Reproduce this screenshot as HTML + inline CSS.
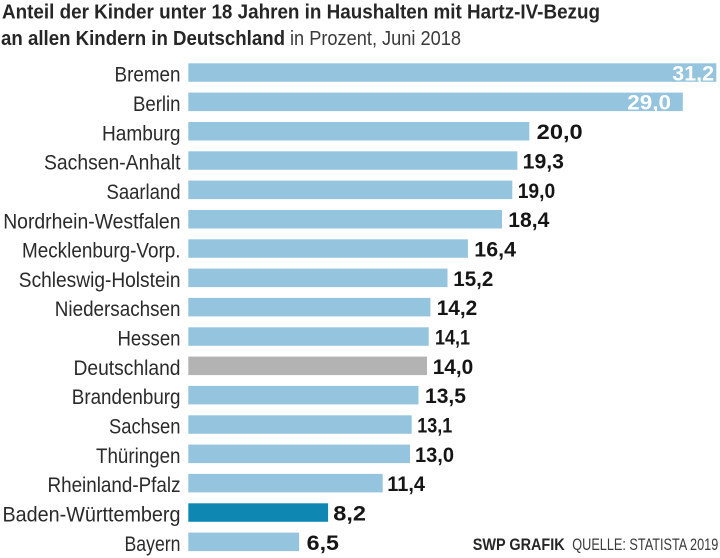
<!DOCTYPE html>
<html>
<head>
<meta charset="utf-8">
<style>
  html, body { margin: 0; padding: 0; background: #ffffff; }
  body { width: 720px; height: 558px; overflow: hidden; }
  svg { display: block; }
  text { font-family: "Liberation Sans", "DejaVu Sans", sans-serif; }
  .lab { font-size: 21.5px; fill: #2a2a2a; }
  .val { font-size: 21px; font-weight: bold; fill: #151515; }
  .valw { font-size: 21px; font-weight: bold; fill: #ffffff; }
  .b { fill: #94c4de; }
</style>
</head>
<body>
<svg width="720" height="558" viewBox="0 0 720 558" xmlns="http://www.w3.org/2000/svg">
  <rect x="0" y="0" width="720" height="558" fill="#ffffff"/>

  <!-- Title -->
  <text x="2" y="18.5" font-size="20" font-weight="bold" fill="#262626" textLength="598" lengthAdjust="spacingAndGlyphs">Anteil der Kinder unter 18 Jahren in Haushalten mit Hartz-IV-Bezug</text>
  <text x="1" y="45" font-size="20" font-weight="bold" fill="#262626" textLength="284" lengthAdjust="spacingAndGlyphs">an allen Kindern in Deutschland</text>
  <text x="290" y="45" font-size="20" fill="#3a3a3a" textLength="171" lengthAdjust="spacingAndGlyphs">in Prozent, Juni 2018</text>

  <!-- Bars -->
  <rect class="b" x="188.3" y="63.3" width="528" height="18.5"/>
  <rect class="b" x="188.3" y="92.6" width="494.5" height="18.5"/>
  <rect class="b" x="188.3" y="122.0" width="341" height="18.5"/>
  <rect class="b" x="188.3" y="151.3" width="329.1" height="18.5"/>
  <rect class="b" x="188.3" y="180.6" width="324" height="18.5"/>
  <rect class="b" x="188.3" y="210.0" width="313.7" height="18.5"/>
  <rect class="b" x="188.3" y="239.3" width="279.6" height="18.5"/>
  <rect class="b" x="188.3" y="268.6" width="259.2" height="18.5"/>
  <rect class="b" x="188.3" y="297.9" width="242.1" height="18.5"/>
  <rect class="b" x="188.3" y="327.3" width="240.4" height="18.5"/>
  <rect x="188.3" y="356.6" width="238.7" height="18.5" fill="#b3b3b3"/>
  <rect class="b" x="188.3" y="385.9" width="230.2" height="18.5"/>
  <rect class="b" x="188.3" y="415.3" width="223.4" height="18.5"/>
  <rect class="b" x="188.3" y="444.6" width="221.7" height="18.5"/>
  <rect class="b" x="188.3" y="473.9" width="194.4" height="18.5"/>
  <rect x="188.3" y="503.3" width="139.8" height="18.5" fill="#0e88b3"/>
  <rect class="b" x="188.3" y="532.6" width="110.8" height="18.5"/>

  <!-- Category labels -->
  <g class="lab" text-anchor="end">
    <text x="180.5" y="81.6" textLength="66" lengthAdjust="spacingAndGlyphs">Bremen</text>
    <text x="180.5" y="110.9" textLength="47.5" lengthAdjust="spacingAndGlyphs">Berlin</text>
    <text x="180.5" y="140.3" textLength="78.5" lengthAdjust="spacingAndGlyphs">Hamburg</text>
    <text x="180.5" y="169.6" textLength="136.5" lengthAdjust="spacingAndGlyphs">Sachsen-Anhalt</text>
    <text x="180.5" y="198.9" textLength="74" lengthAdjust="spacingAndGlyphs">Saarland</text>
    <text x="180.5" y="228.3" textLength="177.3" lengthAdjust="spacingAndGlyphs">Nordrhein-Westfalen</text>
    <text x="180.5" y="257.6" textLength="158.5" lengthAdjust="spacingAndGlyphs">Mecklenburg-Vorp.</text>
    <text x="180.5" y="286.9" textLength="161.7" lengthAdjust="spacingAndGlyphs">Schleswig-Holstein</text>
    <text x="180.5" y="316.2" textLength="125.7" lengthAdjust="spacingAndGlyphs">Niedersachsen</text>
    <text x="180.5" y="345.6" textLength="63" lengthAdjust="spacingAndGlyphs">Hessen</text>
    <text x="180.5" y="374.9" textLength="107" lengthAdjust="spacingAndGlyphs">Deutschland</text>
    <text x="180.5" y="404.2" textLength="108.7" lengthAdjust="spacingAndGlyphs">Brandenburg</text>
    <text x="180.5" y="433.6" textLength="71.5" lengthAdjust="spacingAndGlyphs">Sachsen</text>
    <text x="180.5" y="462.9" textLength="84.5" lengthAdjust="spacingAndGlyphs">Thüringen</text>
    <text x="180.5" y="492.2" textLength="133" lengthAdjust="spacingAndGlyphs">Rheinland-Pfalz</text>
    <text x="180.5" y="521.6" textLength="178" lengthAdjust="spacingAndGlyphs">Baden-Württemberg</text>
    <text x="180.5" y="550.9" textLength="56" lengthAdjust="spacingAndGlyphs">Bayern</text>
  </g>

  <!-- Values -->
  <text class="valw" x="672.3" y="80.3" textLength="41.7" lengthAdjust="spacingAndGlyphs">31,2</text>
  <text class="valw" x="627.3" y="109.6" textLength="43.7" lengthAdjust="spacingAndGlyphs">29,0</text>
  <g class="val">
    <text x="536.7" y="139.2" textLength="46" lengthAdjust="spacingAndGlyphs">20,0</text>
    <text x="522.7" y="168.5" textLength="41.3" lengthAdjust="spacingAndGlyphs">19,3</text>
    <text x="517.7" y="197.8" textLength="37.5" lengthAdjust="spacingAndGlyphs">19,0</text>
    <text x="508.3" y="227.2" textLength="41" lengthAdjust="spacingAndGlyphs">18,4</text>
    <text x="474.3" y="256.5" textLength="41.7" lengthAdjust="spacingAndGlyphs">16,4</text>
    <text x="453.3" y="285.8" textLength="40" lengthAdjust="spacingAndGlyphs">15,2</text>
    <text x="436.7" y="315.1" textLength="40.6" lengthAdjust="spacingAndGlyphs">14,2</text>
    <text x="435" y="344.5" textLength="35" lengthAdjust="spacingAndGlyphs">14,1</text>
    <text x="432.7" y="373.8" textLength="40.6" lengthAdjust="spacingAndGlyphs">14,0</text>
    <text x="425" y="403.1" textLength="41" lengthAdjust="spacingAndGlyphs">13,5</text>
    <text x="417.3" y="432.5" textLength="35" lengthAdjust="spacingAndGlyphs">13,1</text>
    <text x="415" y="461.8" textLength="39" lengthAdjust="spacingAndGlyphs">13,0</text>
    <text x="387.3" y="491.1" textLength="37.7" lengthAdjust="spacingAndGlyphs">11,4</text>
    <text x="333.3" y="520.5" textLength="32.7" lengthAdjust="spacingAndGlyphs">8,2</text>
    <text x="306.7" y="549.8" textLength="32.3" lengthAdjust="spacingAndGlyphs">6,5</text>
  </g>

  <!-- Footer -->
  <text x="472.7" y="550" font-size="17" font-weight="bold" fill="#262626" textLength="92" lengthAdjust="spacingAndGlyphs">SWP GRAFIK</text>
  <text x="572.3" y="550" font-size="17" fill="#3a3a3a" textLength="146" lengthAdjust="spacingAndGlyphs">QUELLE: STATISTA 2019</text>
</svg>
</body>
</html>
